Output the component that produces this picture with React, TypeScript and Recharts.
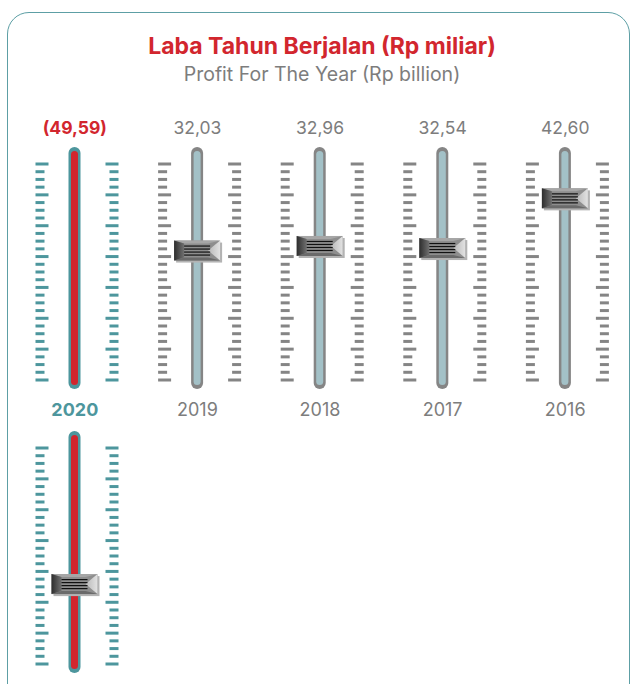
import React from "react";
import { BarChart, Bar, XAxis, YAxis } from "recharts";

const years = ["2020", "2019", "2018", "2017", "2016"];
const profitValues = [-49.59, 32.03, 32.96, 32.54, 42.6];
const valueLabels = ["(49,59)", "32,03", "32,96", "32,54", "42,60"];

// second (cut-off) row only repeats the 2020 slider
const lowerYears = ["2020"];
const lowerLevels = [22];

const TEAL = "#4d969d";
const RED = "#d2262e";
const GRAY_TEXT = "#7d7d7d";
const FONT = "Inter, 'Noto Sans', sans-serif";
const DOMAIN: [number, number] = [4, 53];

interface Row {
  year: string;
  value: number | null;
  label: string;
  highlight: boolean;
  track: boolean;
}

const upperRows: Row[] = years.map((y, i) => ({
  year: y,
  value: profitValues[i],
  label: valueLabels[i],
  highlight: profitValues[i] < 0,
  track: true,
}));

const lowerRows: Row[] = years.map((y) => {
  const k = lowerYears.indexOf(y);
  return {
    year: y,
    value: k >= 0 ? lowerLevels[k] : null,
    label: "",
    highlight: k >= 0,
    track: k >= 0,
  };
});

function SliderTrack(props: any) {
  const { x, y, width, height, payload } = props;
  if (!payload || !payload.track) return null;
  const cx = x + width / 2;
  const hl = payload.highlight;
  const tickColor = hl ? TEAL : "#858585";
  const ticks = [];
  const n = 29;
  const t0 = y + 17;
  const t1 = y + height - 9;
  for (let i = 0; i < n; i++) {
    const ty = t0 + ((t1 - t0) * i) / (n - 1) - 1.5;
    const long = i % 4 === 0;
    ticks.push(
      <rect key={"l" + i} x={cx - 39} y={ty} width={long ? 13 : 9} height={3} fill={tickColor} />,
      <rect key={"r" + i} x={long ? cx + 31 : cx + 35} y={ty} width={long ? 13 : 9} height={3} fill={tickColor} />
    );
  }
  return (
    <g>
      {ticks}
      <rect x={cx - 6} y={y} width={12} height={height} rx={6} fill={hl ? TEAL : "#858585"} />
      <rect x={cx - 3.5} y={y + 4} width={7} height={height - 8} rx={3.5} fill={hl ? RED : "#a3c1c7"} />
    </g>
  );
}

function Knob(props: any) {
  const { x, y, width, payload, index } = props;
  if (!payload || payload.value == null || payload.value <= DOMAIN[0]) return null;
  const w = 46;
  const h = 20;
  const kx = x + width / 2 - w / 2;
  const ky = y - h / 2;
  const id = `knob-${payload.year}-${index}-${payload.label ? "a" : "b"}`;
  const lines = [5.5, 8.5, 11.5, 14.5];
  return (
    <g>
      <defs>
        <linearGradient id={id + "l"} x1="0" x2="1" y1="0" y2="0">
          <stop offset="0%" stopColor="#2d2d2d" />
          <stop offset="100%" stopColor="#707070" />
        </linearGradient>
        <linearGradient id={id + "r"} x1="0" x2="1" y1="0" y2="0">
          <stop offset="0%" stopColor="#b8b8b8" />
          <stop offset="100%" stopColor="#e2e2e2" />
        </linearGradient>
      </defs>
      <rect x={kx + 2} y={ky + 2} width={w} height={h} fill="#b3b3b3" />
      <rect x={kx} y={ky} width={w} height={h} fill="#8e8e8e" />
      <polygon points={`${kx},${ky} ${kx + w},${ky} ${kx + w - 12},${ky + 3} ${kx + 10},${ky + 3}`} fill="#a6a6a6" />
      <polygon points={`${kx},${ky + h} ${kx + w},${ky + h} ${kx + w - 12},${ky + h - 3} ${kx + 10},${ky + h - 3}`} fill="#6a6a6a" />
      <polygon points={`${kx},${ky} ${kx + 10},${ky + 3} ${kx + 10},${ky + h - 3} ${kx},${ky + h}`} fill={`url(#${id}l)`} />
      <polygon points={`${kx + w},${ky} ${kx + w - 12},${ky + h / 2} ${kx + w},${ky + h}`} fill={`url(#${id}r)`} />
      {lines.map((ly) => (
        <line key={ly} x1={kx + 10} x2={kx + w - 10} y1={ky + ly} y2={ky + ly} stroke="#111" strokeWidth={1.2} />
      ))}
    </g>
  );
}

function makeYearTick(rows: Row[], show: boolean) {
  return (props: any) => {
    const { x, y, payload, index } = props;
    if (!show) return null;
    const hl = rows[index]?.highlight;
    return (
      <text x={x} y={y + 27} textAnchor="middle" fontFamily={FONT} fontSize={18}
        fontWeight={hl ? 700 : 400} fill={hl ? TEAL : GRAY_TEXT}>
        {payload.value}
      </text>
    );
  };
}

function makeValueTick(rows: Row[]) {
  return (props: any) => {
    const { x, y, payload, index } = props;
    if (!payload.value) return null;
    const hl = rows[index]?.highlight;
    return (
      <text x={x} y={y - 13} textAnchor="middle" fontFamily={FONT} fontSize={17.5}
        fontWeight={hl ? 700 : 400} fill={hl ? RED : GRAY_TEXT}>
        {payload.value}
      </text>
    );
  };
}

function SliderRow({ rows, showYears }: { rows: Row[]; showYears: boolean }) {
  return (
    <BarChart width={632} height={684} data={rows}
      margin={{ top: 123, right: 5.5, bottom: 271, left: 13.5 }}>
      <XAxis dataKey="year" axisLine={false} tickLine={false} tickSize={0} tickMargin={0}
        height={24} interval={0} tick={makeYearTick(rows, showYears)} />
      <XAxis xAxisId="top" orientation="top" dataKey="label" axisLine={false} tickLine={false}
        tickSize={0} tickMargin={0} height={24} interval={0} tick={makeValueTick(rows)} />
      <YAxis hide domain={DOMAIN} allowDataOverflow />
      <Bar dataKey="value" barSize={46} background={<SliderTrack />} shape={<Knob />}
        isAnimationActive={false} />
    </BarChart>
  );
}

export default function App() {
  return (
    <div style={{ position: "absolute", left: 0, top: 0, width: 632, height: 684, overflow: "hidden", background: "#fff", fontFamily: FONT }}>
      <div style={{ position: "absolute", left: 7, top: 12, width: 621, height: 700, border: "1.5px solid #5d9fa5", borderRadius: 22 }} />
      <div style={{ position: "absolute", left: 0, top: 33, width: 644, textAlign: "center", fontSize: 23, lineHeight: "26px", fontWeight: 700, color: RED }}>
        Laba Tahun Berjalan (Rp miliar)
      </div>
      <div style={{ position: "absolute", left: 0, top: 61, width: 644, textAlign: "center", fontSize: 19.5, lineHeight: "26px", color: GRAY_TEXT }}>
        Profit For The Year (Rp billion)
      </div>
      <div style={{ position: "absolute", left: 0, top: 0 }}>
        <SliderRow rows={upperRows} showYears={true} />
      </div>
      <div style={{ position: "absolute", left: 0, top: 284 }}>
        <SliderRow rows={lowerRows} showYears={false} />
      </div>
    </div>
  );
}
